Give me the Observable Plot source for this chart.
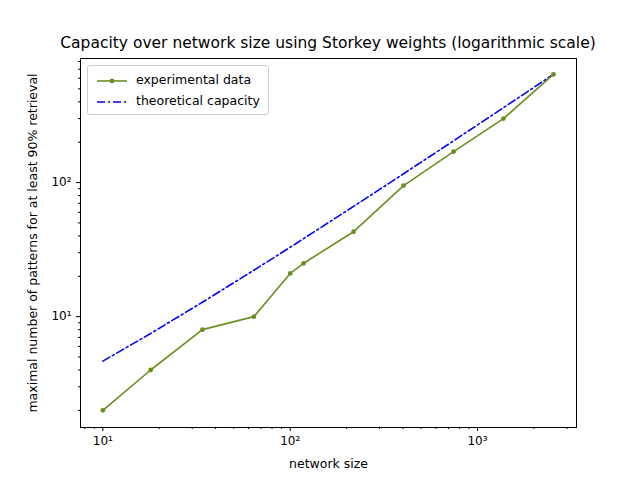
<!DOCTYPE html>
<html><head>
<script src="https://cdn.jsdelivr.net/npm/d3@7"></script>
<script src="https://cdn.jsdelivr.net/npm/@observablehq/plot@0.6"></script>
<style>
body{margin:0;font-family:"DejaVu Sans",sans-serif;background:#fff}
#wrap{position:relative;width:640px;height:480px}
#title{position:absolute;top:34px;left:0;width:656px;text-align:center;font-size:15.5px}
#legend{position:absolute;left:87px;top:65px;border:1px solid #ccc;border-radius:3px;background:#fff;padding:3px 8px;font-size:12.5px;line-height:21px}
#legend svg{vertical-align:middle;margin-right:8px}
</style></head><body>
<div id="wrap"><div id="chart"></div>
<div id="title">Capacity over network size using Storkey weights (logarithmic scale)</div>
<div id="legend">
<div><svg width="32" height="10"><line x1="1" x2="31" y1="5" y2="5" stroke="#6b8e23" stroke-width="1.6"/><circle cx="16" cy="5" r="2.4" fill="#6b8e23"/></svg>experimental data</div>
<div><svg width="32" height="10"><line x1="1" x2="31" y1="5" y2="5" stroke="blue" stroke-width="1.6" stroke-dasharray="8,3,2,3"/></svg>theoretical capacity</div>
</div></div>
<script>
const networkSize = [10, 18, 34, 64, 100, 118, 218, 403, 745, 1376, 2543];
const experimental = [2, 4, 8, 10, 21, 25, 43, 95, 170, 300, 640];
const theoretical = [4.66, 7.49, 12.8, 22.2, 32.9, 38.2, 66.4, 116.3, 204.8, 362, 642];
const majorTicks = [10, 100, 1000];
const majorLabels = ["10¹", "10²", "10³"];
const yMajor = [10, 100];
const exp = networkSize.map((x,i)=>({x, y: experimental[i]}));
const th = networkSize.map((x,i)=>({x, y: theoretical[i]}));
const minorX = [];
for (const d of [1,10,100,1000]) for (let k=2;k<10;k++){const v=d*k; if(v>7.6&&v<3375) minorX.push(v);}
const minorY = [];
for (const d of [1,10,100]) for (let k=2;k<10;k++){const v=d*k; if(v>1.49&&v<842) minorY.push(v);}
const fmt = (arr, labs) => v => labs[arr.indexOf(v)];
const chart = Plot.plot({
  width: 640, height: 480,
  marginLeft: 80, marginRight: 64, marginTop: 58, marginBottom: 53,
  style: {fontFamily: "DejaVu Sans", fontSize: "12px", color: "#000"},
  x: {type: "log", domain: [7.6, 3375]},
  y: {type: "log", domain: [1.49, 842]},
  marks: [
    Plot.frame({stroke: "#000"}),
    Plot.axisX(majorTicks, {tickSize: 4, tickFormat: fmt(majorTicks, majorLabels), label: null, fontSize: 12}),
    Plot.axisX(minorX, {tickSize: 2, tickFormat: () => "", label: null}),
    Plot.axisY(yMajor, {tickSize: 4, tickFormat: fmt(yMajor, ["10¹", "10²"]), label: null, fontSize: 12}),
    Plot.axisY(minorY, {tickSize: 2, tickFormat: () => "", label: null}),
    Plot.text(["network size"], {frameAnchor: "bottom", dy: 40, fontSize: 12.5}),
    Plot.text(["maximal number of patterns for at least 90% retrieval"], {frameAnchor: "left", textAnchor: "middle", dx: -48, rotate: -90, fontSize: 12.5}),
    Plot.line(th, {x: "x", y: "y", stroke: "blue", strokeWidth: 1.6, strokeDasharray: "8,3,2,3"}),
    Plot.line(exp, {x: "x", y: "y", stroke: "#6b8e23", strokeWidth: 1.6}),
    Plot.dot(exp, {x: "x", y: "y", fill: "#6b8e23", r: 2.4})
  ]
});
document.getElementById("chart").appendChild(chart);
</script></body></html>
